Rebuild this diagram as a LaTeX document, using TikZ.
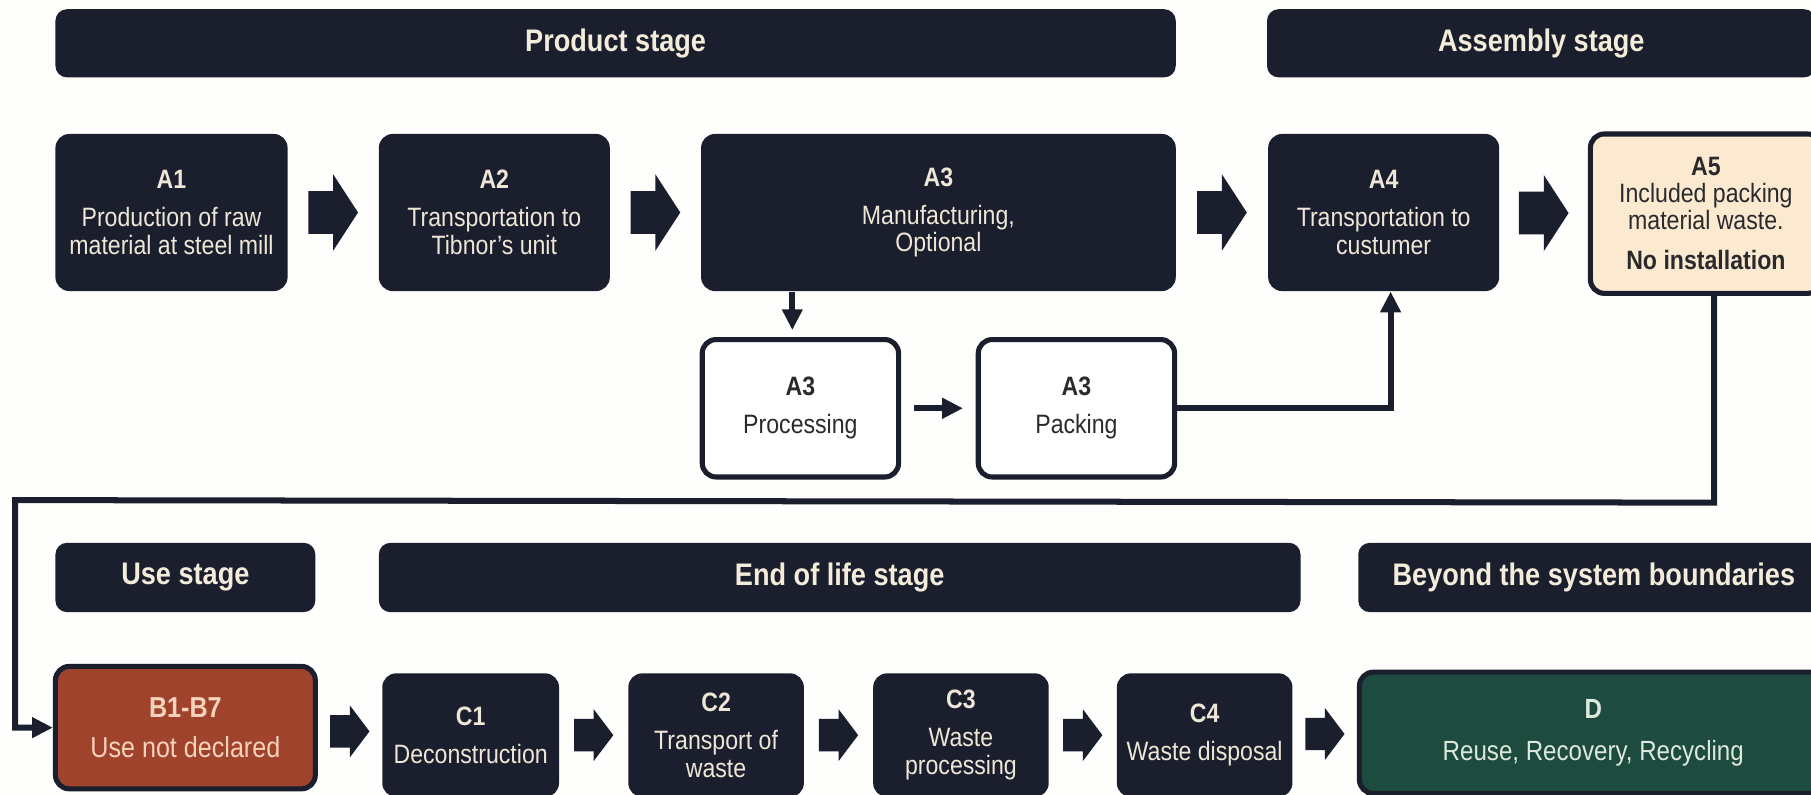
\documentclass[tikz,border=0pt]{standalone}
\usepackage{fontspec}
\setmainfont{Liberation Sans}[FakeStretch=0.87]
\usetikzlibrary{calc,arrows.meta}
\definecolor{navy}{HTML}{1B1F2D}
\definecolor{cream}{HTML}{EEE7D7}
\definecolor{hdrtext}{HTML}{F4ECDB}
\definecolor{afive}{HTML}{FBEAD0}
\definecolor{brick}{HTML}{A0432D}
\definecolor{bricktext}{HTML}{F5D2BC}
\definecolor{dgreen}{HTML}{1E4B3F}
\definecolor{greentext}{HTML}{DCE9DB}
\definecolor{darktext}{HTML}{2A2A2E}
\definecolor{bg}{HTML}{FEFEFC}
\tikzset{
  box/.style={rounded corners=6pt, fill=navy, text=cream, align=center, inner sep=0pt,
    font=\fontsize{11.5}{12}\selectfont},
  bordered/.style={box, draw=navy, line width=2.2pt},
  hdr/.style={rounded corners=5pt, fill=navy, text=hdrtext, inner sep=0pt,
    font=\fontsize{13.5}{14}\selectfont\bfseries, minimum height=29.5pt},
  conn/.style={draw=navy, line width=2.6pt, -{Triangle[length=9pt,width=8.5pt]}},
  pics/bigarrow/.style={code={\fill[navy] (-10.75pt,-9.25pt) -- (0pt,-9.25pt) -- (0pt,-16.5pt)
     -- (10.75pt,0pt) -- (0pt,16.5pt) -- (0pt,9.25pt) -- (-10.75pt,9.25pt) -- cycle;}},
  pics/smallarrow/.style={code={\fill[navy] (-8.5pt,-7pt) -- (0pt,-7pt) -- (0pt,-11.25pt)
     -- (8.5pt,0pt) -- (0pt,11.25pt) -- (0pt,7pt) -- (-8.5pt,7pt) -- cycle;}}
}
\begin{document}
\begin{tikzpicture}[x=0.5pt,y=-0.5pt]
\useasboundingbox (0,0) rectangle (1568,688);
\clip (0,0) rectangle (1568,688);
\fill[bg] (0,0) rectangle (1568,688);

% headers
\node[hdr, minimum width=485pt] (hprod) at (533,37.5) {Product stage};
\node[hdr, minimum width=237.5pt] (hasm) at (1334.5,37.5) {Assembly stage};
\node[hdr, minimum width=112.5pt, minimum height=30pt] (huse) at (160.5,500) {Use stage};
\node[hdr, minimum width=399pt, minimum height=30pt] (heol) at (727,500) {End of life stage};
\node[hdr, minimum width=204pt, minimum height=30pt] (hbey) at (1380,500) {Beyond the system boundaries};

% row 1
\node[box, minimum width=100.5pt, minimum height=68pt] (a1) at (148.5,184)
  {\textbf{A1}\\[4.5pt]Production of raw\\material at steel mill};
\node[box, minimum width=100pt, minimum height=68pt] (a2) at (428,184)
  {\textbf{A2}\\[4.5pt]Transportation to\\Tibnor's unit};
\node[box, minimum width=205.5pt, minimum height=68pt] (a3) at (812.5,184)
  {\textbf{A3}\\[4.5pt]Manufacturing,\\Optional};
\node[box, minimum width=100pt, minimum height=68pt] (a4) at (1198,184)
  {\textbf{A4}\\[4.5pt]Transportation to\\custumer};
\node[bordered, fill=afive, text=darktext, minimum width=100pt, minimum height=69pt,
  font=\fontsize{11.5}{11.5}\selectfont] (a5) at (1477,185)
  {\textbf{A5}\\Included packing\\material waste.\\[6pt]\textbf{No installation}};

% row 2 (sub-steps of A3)
\node[bordered, fill=white, text=darktext, minimum width=85pt, minimum height=59.5pt] (proc) at (693,353.5)
  {\textbf{A3}\\[4.5pt]Processing};
\node[bordered, fill=white, text=darktext, minimum width=85pt, minimum height=59.5pt] (pack) at (932,353.5)
  {\textbf{A3}\\[4.5pt]Packing};

% row 3
\node[bordered, fill=brick, text=bricktext, minimum width=112.5pt, minimum height=53pt,
  font=\fontsize{12.5}{13}\selectfont] (b) at (160.5,630)
  {\textbf{B1-B7}\\[4pt]Use not declared};
\node[box, minimum width=76.5pt, minimum height=53.5pt] (c1) at (407.5,636.5)
  {\textbf{C1}\\[4.5pt]Deconstruction};
\node[box, minimum width=76pt, minimum height=53.5pt] (c2) at (620,636.5)
  {\textbf{C2}\\[4.5pt]Transport of\\waste};
\node[box, minimum width=76pt, minimum height=53.5pt] (c3) at (832,636.5)
  {\textbf{C3}\\[4.5pt]Waste\\processing};
\node[box, minimum width=76pt, minimum height=53.5pt] (c4) at (1043,636.5)
  {\textbf{C4}\\[4.5pt]Waste disposal};
\node[bordered, fill=dgreen, text=greentext, minimum width=202.5pt, minimum height=52.5pt,
  font=\fontsize{12}{13}\selectfont] (d) at (1379.5,634.5)
  {\textbf{D}\\[5pt]Reuse, Recovery, Recycling};

% block arrows
\pic at ($(a1.east)!.5!(a2.west)$) {bigarrow};
\pic at ($(a2.east)!.5!(a3.west)$) {bigarrow};
\pic at ($(a3.east)!.5!(a4.west)$) {bigarrow};
\pic at ($(a4.east)!.5!(a5.west)$) {bigarrow};
\pic at ($(b.east)!.5!(c1.west)$) {smallarrow};
\pic at ($(c1.east)!.5!(c2.west)$) {smallarrow};
\pic at ($(c2.east)!.5!(c3.west)$) {smallarrow};
\pic at ($(c3.east)!.5!(c4.west)$) {smallarrow};
\pic at ($(c4.east)!.5!(d.west)$) {smallarrow};

% connectors
\coordinate (procIn) at ($(proc.north)+(-7,0)$);
\draw[conn, shorten >=3pt] (procIn |- a3.south) -- (procIn);
\draw[conn, shorten <=5.5pt, shorten >=5.5pt] (proc.east) -- (pack.west);
\coordinate (a4In) at ($(a4.south)+(6,0)$);
\draw[conn] (pack.east) -| (a4In);
\coordinate (a5Out) at ($(a5.south)+(7,0)$);
\coordinate (loopR) at ($(a5.south)+(7,179)$);
\coordinate (loopL) at (13,433);
\draw[conn, line join=miter] (a5Out) -- (loopR) -- (loopL) |- (b.west);
\end{tikzpicture}
\end{document}
